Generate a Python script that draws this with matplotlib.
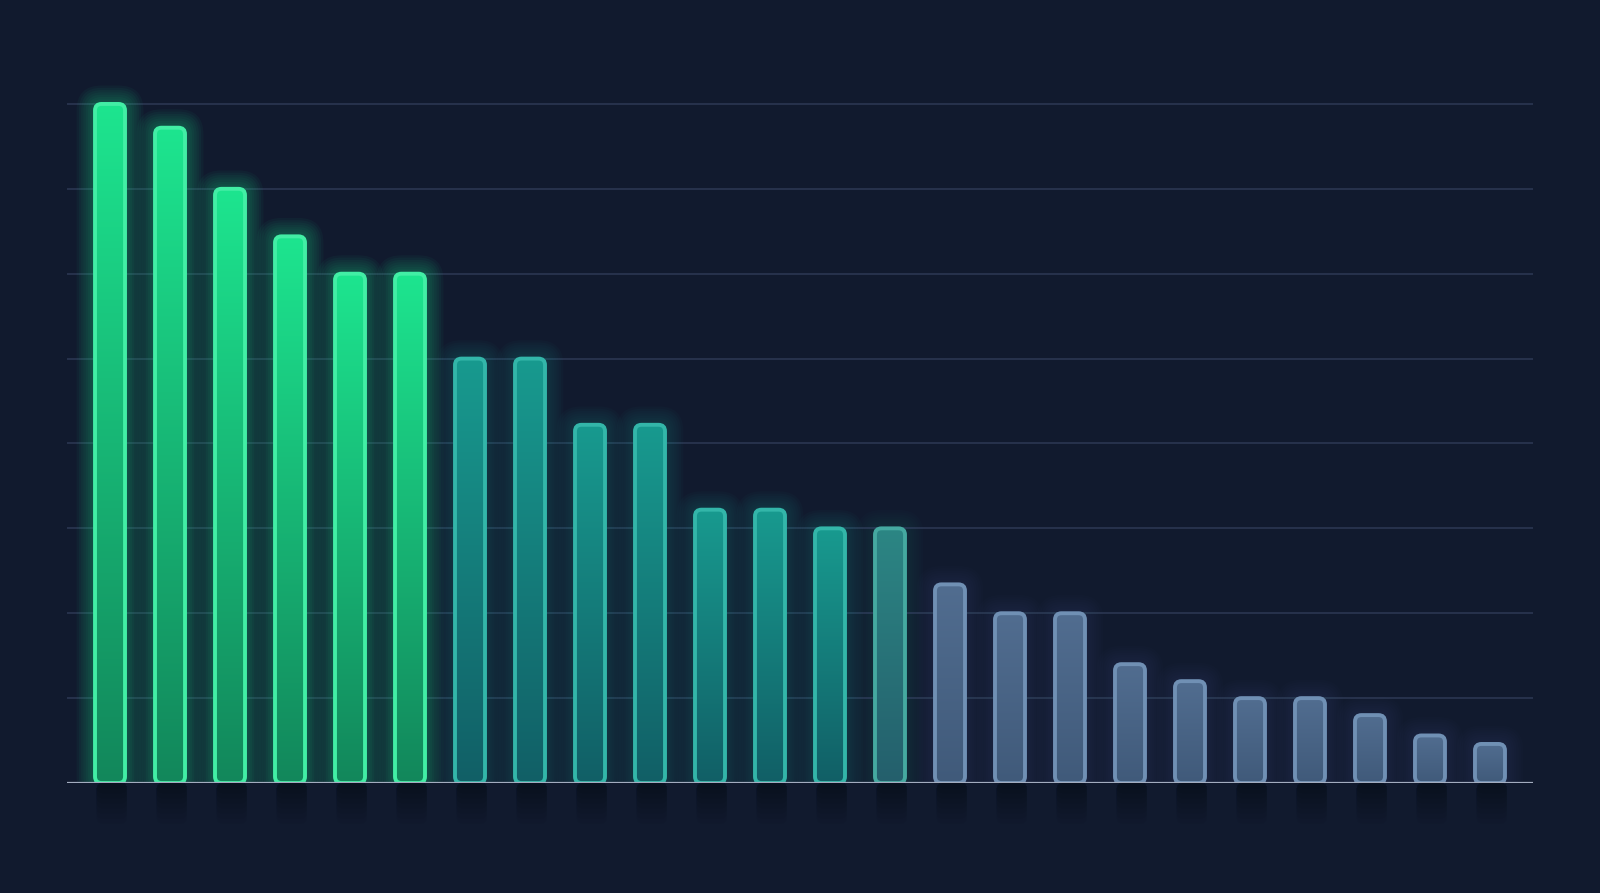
import numpy as np
import matplotlib
matplotlib.use("Agg")
import matplotlib.pyplot as plt
from matplotlib.patches import FancyBboxPatch
from matplotlib.colors import LinearSegmentedColormap

# bar heights (grid step = 5)
values = [40, 38.6, 35, 32.2, 30, 30, 25, 25, 21.1, 21.1, 16.1, 16.1,
          15, 15, 11.7, 10, 10, 7, 6, 5, 5, 4, 2.8, 2.3]
groups = ['green'] * 6 + ['teal'] * 7 + ['teal_grey'] + ['slate'] * 10
grid_levels = [5, 10, 15, 20, 25, 30, 35, 40]

# bottom fill, top fill, edge, glow
palette = {
    'green': ('#12875b', '#1de58f', '#42eea5', '#1de891'),
    'teal': ('#115f66', '#189a8f', '#33b6a9', '#18a094'),
    'teal_grey': ('#245f6c', '#2c8684', '#45a9a0', '#2c8684'),
    'slate': ('#405a7a', '#516d90', '#7090b4', '#5a7aa8'),
}
glow_strength = {'green': 0.045, 'teal': 0.03, 'teal_grey': 0.025, 'slate': 0.018}

bg = '#111a2e'
fig = plt.figure(figsize=(16, 8.93), dpi=100, facecolor=bg)
ax = fig.add_axes([67 / 1600, 110 / 893, 1466 / 1600, 713 / 893])
ax.set_facecolor(bg)

x = np.arange(len(values))
ax.set_xlim(-0.717, len(values) - 1 + 0.717)
ax.set_ylim(0, 42)

# pixels per data unit, used to keep the corners round
px_x = 1466 / (len(values) - 1 + 2 * 0.717)
px_y = 713 / 42
aspect = px_x / px_y

for g in grid_levels:
    ax.axhline(g, color='#2b3651', lw=1.2, zorder=1)
ax.axhline(0, color='#a3acbf', lw=1.6, zorder=6)

width = 0.5
rs = 6.5 / px_x

bars = ax.bar(x, values, width=width, color='none', edgecolor='none')

for rect, grp in zip(bars, groups):
    x0, w, h = rect.get_x(), rect.get_width(), rect.get_height()
    bot, top, edge, glow = palette[grp]

    # soft glow around the bar
    for k in range(1, 9):
        pad = k * 2.3 / px_x
        gp = FancyBboxPatch((x0, 0), w, h,
                            boxstyle=f"round,pad={pad},rounding_size={rs + pad}",
                            mutation_aspect=aspect, facecolor=glow, edgecolor='none',
                            alpha=glow_strength[grp], zorder=2)
        ax.add_patch(gp)

    # soft shadow under the baseline
    for k in range(1, 9):
        sp = FancyBboxPatch((x0 + 0.03, -k * 0.3), w, k * 0.3,
                            boxstyle=f"round,pad=0,rounding_size={rs}",
                            mutation_aspect=aspect, facecolor='#04070f',
                            edgecolor='none', alpha=0.06, zorder=2, clip_on=False)
        ax.add_patch(sp)

    patch = FancyBboxPatch((x0, 0), w, h,
                           boxstyle=f"round,pad=0,rounding_size={rs}",
                           mutation_aspect=aspect, facecolor='none',
                           edgecolor=edge, lw=2.8, zorder=5)
    ax.add_patch(patch)

    cmap = LinearSegmentedColormap.from_list(grp, [bot, top])
    grad = np.linspace(0, 1, 256).reshape(-1, 1)
    im = ax.imshow(grad, cmap=cmap, origin='lower', aspect='auto',
                   extent=(x0, x0 + w, 0, h), zorder=4, interpolation='bilinear')
    im.set_clip_path(patch)

ax.set_xlim(-0.717, len(values) - 1 + 0.717)
ax.set_ylim(0, 42)
for s in ax.spines.values():
    s.set_visible(False)
ax.set_xticks([])
ax.set_yticks([])

fig.savefig('out.png', dpi=100, facecolor=bg)
